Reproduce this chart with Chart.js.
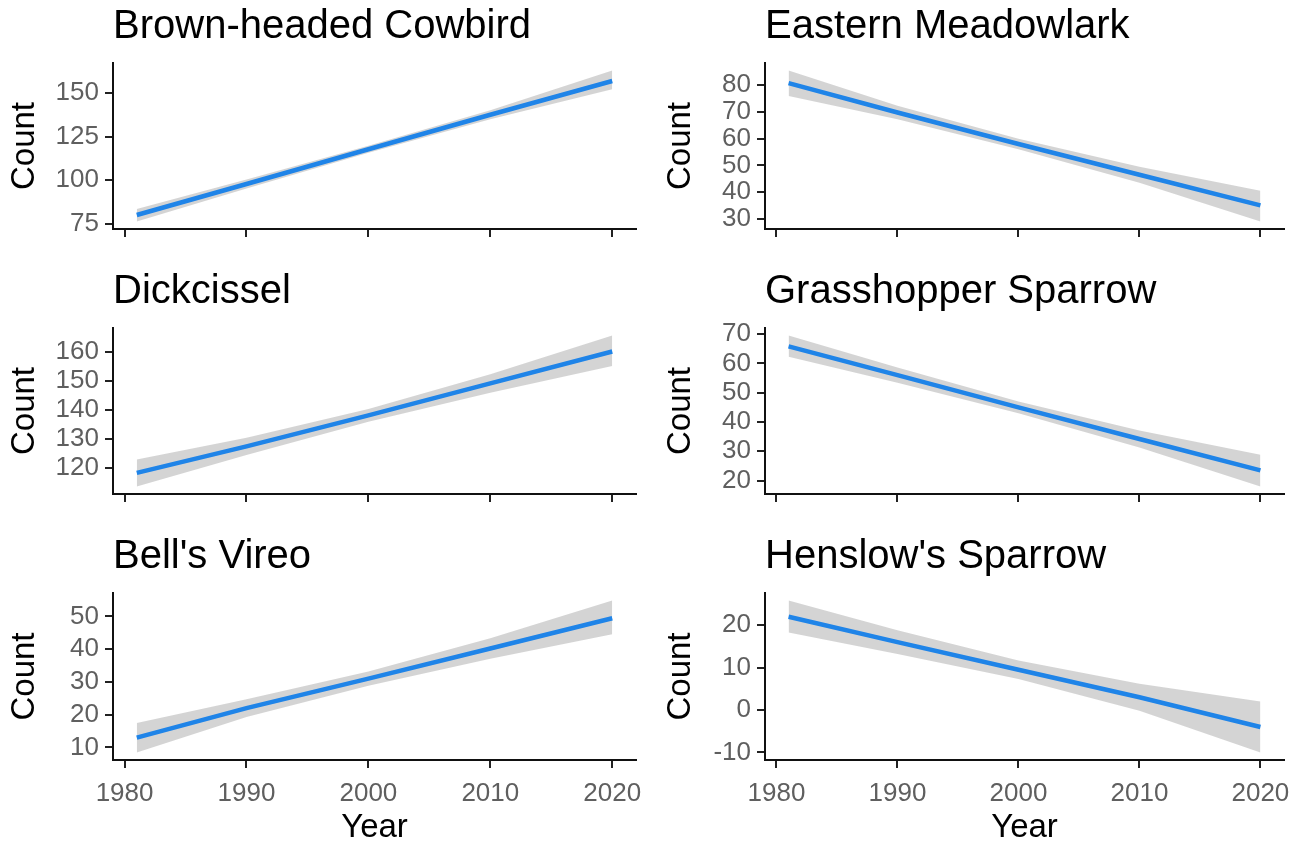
<!DOCTYPE html>
<html>
<head>
<meta charset="utf-8">
<script src="https://cdn.jsdelivr.net/npm/chart.js@4.4.0/dist/chart.umd.min.js"></script>
<style>
html,body{margin:0;padding:0;background:#fff;overflow:hidden;width:1304px;height:841px;}
canvas{position:absolute;display:block;}
</style>
</head>
<body>
<script>
// ---- data ----
const years = [1981, 1990, 2000, 2010, 2020];
const yearTicks = [1980, 1990, 2000, 2010, 2020];

const cowbirdFit = [80, 97.8, 117.8, 137.6, 157];
const cowbirdLo  = [76.3, 95.2, 115.8, 135.0, 152.3];
const cowbirdHi  = [83.5, 100.4, 119.8, 140.2, 163];
const cowbirdTicks = [75, 100, 125, 150];

const meadowlarkFit = [80.8, 69.8, 58, 46.5, 35];
const meadowlarkLo  = [76, 67.3, 56.0, 43.5, 29];
const meadowlarkHi  = [85.5, 72.3, 60.0, 49.5, 40.5];
const meadowlarkTicks = [30, 40, 50, 60, 70, 80];

const dickcisselFit = [118.2, 127.3, 138, 149, 160];
const dickcisselLo  = [113.5, 124.3, 135.8, 145.8, 155];
const dickcisselHi  = [122.8, 130.3, 140.2, 152.2, 165.5];
const dickcisselTicks = [120, 130, 140, 150, 160];

const grasshopperFit = [65.8, 56, 45, 34.2, 23.5];
const grasshopperLo  = [62.3, 53.4, 43.0, 31.3, 18];
const grasshopperHi  = [69.5, 58.6, 47.0, 37.1, 28.8];
const grasshopperTicks = [20, 30, 40, 50, 60, 70];

const vireoFit = [13, 22, 31, 40.2, 49.4];
const vireoLo  = [8.5, 19.3, 28.8, 37.1, 44.5];
const vireoHi  = [17.5, 24.7, 33.2, 43.3, 54.8];
const vireoTicks = [10, 20, 30, 40, 50];

const henslowFit = [22, 16, 9.5, 3, -4];
const henslowLo  = [18.3, 13.2, 7.3, -0.2, -10];
const henslowHi  = [25.8, 18.8, 11.7, 6.2, 2];
const henslowTicks = [-10, 0, 10, 20];

const panels = [
  {name: 'Brown-headed Cowbird', fit: cowbirdFit, lo: cowbirdLo, hi: cowbirdHi, ticks: cowbirdTicks, col: 0, row: 0},
  {name: 'Eastern Meadowlark', fit: meadowlarkFit, lo: meadowlarkLo, hi: meadowlarkHi, ticks: meadowlarkTicks, col: 1, row: 0},
  {name: 'Dickcissel', fit: dickcisselFit, lo: dickcisselLo, hi: dickcisselHi, ticks: dickcisselTicks, col: 0, row: 1},
  {name: 'Grasshopper Sparrow', fit: grasshopperFit, lo: grasshopperLo, hi: grasshopperHi, ticks: grasshopperTicks, col: 1, row: 1},
  {name: "Bell's Vireo", fit: vireoFit, lo: vireoLo, hi: vireoHi, ticks: vireoTicks, col: 0, row: 2},
  {name: "Henslow's Sparrow", fit: henslowFit, lo: henslowLo, hi: henslowHi, ticks: henslowTicks, col: 1, row: 2}
];

// ---- layout / style ----
const FONT = "'Liberation Sans', Arial, sans-serif";
const cols = [{cx: 0, cw: 652, wy: 113, padR: 16}, {cx: 656, cw: 648, wy: 109, padR: 20}];
const rows = [{cy: 0, ch: 265, hx: 36}, {cy: 265, ch: 265, hx: 36}, {cy: 530, ch: 330, hx: 100}];

function expand(vals) {
  const lo = Math.min(...vals), hi = Math.max(...vals);
  const r = hi - lo;
  return {min: lo - 0.05 * r, max: hi + 0.05 * r};
}

panels.forEach((p, i) => {
  const c = cols[p.col], r = rows[p.row];
  const isBottom = p.row === 2;
  const cv = document.createElement('canvas');
  cv.width = c.cw; cv.height = r.ch;
  cv.style.left = c.cx + 'px'; cv.style.top = r.cy + 'px';
  cv.style.width = c.cw + 'px'; cv.style.height = r.ch + 'px';
  document.body.appendChild(cv);

  const xr = expand(years);
  const yr = expand(p.lo.concat(p.hi));
  const pts = arr => years.map((x, k) => ({x: x, y: arr[k]}));
  const axisCommon = {
    grid: {drawOnChartArea: false, drawTicks: true, tickLength: 8, color: '#222', lineWidth: 2},
    border: {display: true, color: '#111', width: 2}
  };

  new Chart(cv, {
    type: 'line',
    data: {
      datasets: [
        {data: pts(p.lo), order: 2, borderWidth: 0, pointRadius: 0, fill: false, borderColor: 'rgba(0,0,0,0)'},
        {data: pts(p.hi), order: 1, borderWidth: 0, pointRadius: 0, fill: '-1', borderColor: 'rgba(0,0,0,0)', backgroundColor: 'rgba(153,153,153,0.42)'},
        {data: pts(p.fit), order: 0, borderWidth: 4.5, pointRadius: 0, fill: false, borderColor: '#1f84e8'}
      ]
    },
    options: {
      responsive: false,
      animation: false,
      devicePixelRatio: 1,
      layout: {padding: {left: 0, right: c.padR, top: 0, bottom: 0}},
      plugins: {
        legend: {display: false},
        tooltip: {enabled: false},
        title: {
          display: true, text: p.name, align: 'start', fullSize: false, color: '#000',
          font: {family: FONT, size: 40, weight: 'normal'},
          padding: {top: 3, bottom: 12}
        }
      },
      scales: {
        x: Object.assign({
          type: 'linear', min: xr.min, max: xr.max,
          afterBuildTicks: s => { s.ticks = yearTicks.map(v => ({value: v})); },
          afterFit: s => { s.height = r.hx; },
          ticks: {display: isBottom, color: '#5f5f5f', font: {family: FONT, size: 26}, padding: 10, maxRotation: 0, autoSkip: false,
                  callback: v => String(v)},
          title: {display: isBottom, text: 'Year', color: '#000', font: {family: FONT, size: 33}, padding: {top: 0, bottom: 12}}
        }, axisCommon),
        y: Object.assign({
          type: 'linear', min: yr.min, max: yr.max,
          afterBuildTicks: s => { s.ticks = p.ticks.map(v => ({value: v})); },
          afterFit: s => { s.width = c.wy; },
          ticks: {color: '#5f5f5f', font: {family: FONT, size: 26}, padding: 6, autoSkip: false, callback: v => String(v)},
          title: {display: true, text: 'Count', color: '#000', font: {family: FONT, size: 33}, padding: {top: 5, bottom: 0}}
        }, axisCommon)
      }
    }
  });
});
</script>
</body>
</html>
